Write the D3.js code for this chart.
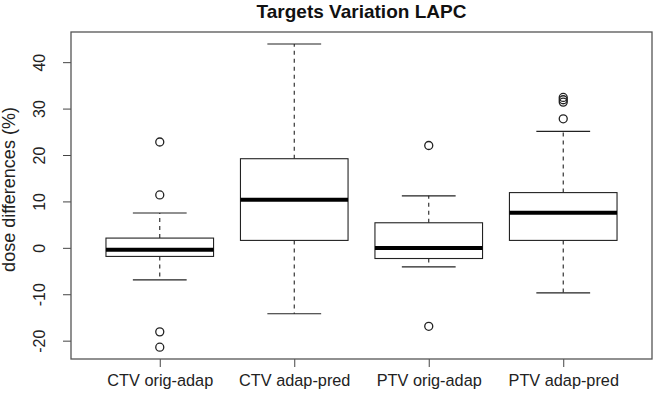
<!DOCTYPE html>
<html><head><meta charset="utf-8">
<script src="https://cdn.jsdelivr.net/npm/d3@7/dist/d3.min.js"></script>
<style>body{margin:0;background:#fff}svg{display:block}text{font-family:"Liberation Sans",Arial,sans-serif}</style>
</head><body>
<script>
const categories = ["CTV orig-adap", "CTV adap-pred", "PTV orig-adap", "PTV adap-pred"];
const whiskerLow  = [-6.9, -14.2, -4.1, -9.7];
const q1          = [-1.85, 1.6, -2.3, 1.6];
const medians     = [-0.4, 10.35, -0.05, 7.55];
const q3          = [2.1, 19.2, 5.4, 11.9];
const whiskerHigh = [7.5, 43.9, 11.2, 25.1];
const outliers    = [[22.8, 11.4, -18.1, -21.4], [], [22.05, -16.9], [32.4, 31.9, 31.4, 27.8]];
const yTicks = [-20, -10, 0, 10, 20, 30, 40];
const title = "Targets Variation LAPC";
const yLabel = "dose differences (%)";

const W = 654, H = 401;
const svg = d3.select("body").append("svg").attr("width", W).attr("height", H);
const x = d3.scaleLinear().domain([0.34, 4.66]).range([71, 652]);
const y = d3.scaleLinear().domain([-23.95, 46.5]).range([359, 32]);
const ink = "#222";
const halfBox = x(1.4) - x(1);
const halfCap = halfBox / 2;

// title
svg.append("text").attr("x", (71 + 652) / 2).attr("y", 17.5).attr("text-anchor", "middle")
  .attr("font-size", 19).attr("font-weight", "bold").attr("fill", "#111").text(title);

// y axis
const ya = svg.append("g").attr("transform", "translate(71,0)")
  .call(d3.axisLeft(y).tickValues(yTicks).tickSize(8).tickFormat(d => String(d)));
ya.select(".domain").remove();
ya.selectAll(".tick line").attr("stroke", "#444");
ya.selectAll(".tick text").attr("x", null).attr("dy", null).attr("text-anchor", "middle")
  .attr("transform", "translate(-26,0) rotate(-90)").attr("font-size", 16).attr("fill", "#222");

svg.append("text").attr("transform", `translate(14.5,${(32 + 359) / 2 - 6}) rotate(-90)`)
  .attr("text-anchor", "middle").attr("font-size", 18).attr("fill", "#222").text(yLabel);

// x axis
const xa = svg.append("g").attr("transform", "translate(0,359)")
  .call(d3.axisBottom(x).tickValues([1, 2, 3, 4]).tickSize(8).tickPadding(16)
    .tickFormat((d) => categories[d - 1]));
xa.select(".domain").remove();
xa.selectAll(".tick line").attr("stroke", "#444");
xa.selectAll(".tick text").attr("font-size", 16.3).attr("fill", "#222").attr("dy", "0.2em");

// frame
svg.append("rect").attr("x", 71).attr("y", 32).attr("width", 652 - 71).attr("height", 359 - 32)
  .attr("fill", "none").attr("stroke", "#555").attr("stroke-width", 1.3);

// boxes
const g = svg.append("g");
categories.forEach((c, i) => {
  const cx = x(i + 1);
  g.append("line").attr("x1", cx).attr("x2", cx).attr("y1", y(q3[i])).attr("y2", y(whiskerHigh[i]))
    .attr("stroke", ink).attr("stroke-dasharray", "4,4").attr("stroke-width", 1.1);
  g.append("line").attr("x1", cx).attr("x2", cx).attr("y1", y(q1[i])).attr("y2", y(whiskerLow[i]))
    .attr("stroke", ink).attr("stroke-dasharray", "4,4").attr("stroke-width", 1.1);
  [whiskerHigh[i], whiskerLow[i]].forEach(v => {
    g.append("line").attr("x1", cx - halfCap).attr("x2", cx + halfCap).attr("y1", y(v)).attr("y2", y(v))
      .attr("stroke", ink).attr("stroke-width", 1.1);
  });
  g.append("rect").attr("x", cx - halfBox).attr("width", 2 * halfBox)
    .attr("y", y(q3[i])).attr("height", y(q1[i]) - y(q3[i]))
    .attr("fill", "#fff").attr("stroke", ink).attr("stroke-width", 1.1);
  g.append("line").attr("x1", cx - halfBox).attr("x2", cx + halfBox).attr("y1", y(medians[i])).attr("y2", y(medians[i]))
    .attr("stroke", "#000").attr("stroke-width", 4);
  outliers[i].forEach(v => {
    g.append("circle").attr("cx", cx).attr("cy", y(v)).attr("r", 4)
      .attr("fill", "none").attr("stroke", ink).attr("stroke-width", 1.3);
  });
});
</script>
</body></html>
